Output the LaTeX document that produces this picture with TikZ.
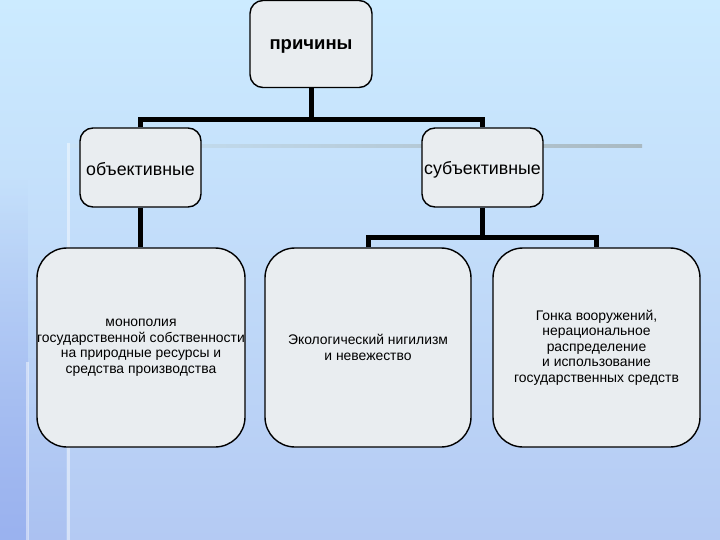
\documentclass[tikz,border=0pt]{standalone}
\usepackage{fontspec}
\setmainfont{Liberation Sans}
\usetikzlibrary{fadings}
\definecolor{bgtop}{HTML}{CCEBFF}
\definecolor{bgmid}{HTML}{C1DBF9}
\definecolor{bgbot}{HTML}{B4CAF3}
\definecolor{boxfill}{HTML}{E9EDF0}
\definecolor{strip}{HTML}{9AB2EF}
\definecolor{greyline}{HTML}{A9B9C1}
\definecolor{fadeline}{HTML}{C8E3F8}
\tikzset{
  smallbox/.style={draw=black, line width=1.4pt, fill=boxfill, rounded corners=13pt, inner sep=0pt},
  bigbox/.style={draw=black, line width=1.4pt, fill=boxfill, rounded corners=30pt, inner sep=0pt},
  conn/.style={draw=black, line width=5pt, line join=miter},
  toptxt/.style={font=\fontsize{18.5}{22}\selectfont\bfseries, inner sep=0pt},
  midtxt/.style={font=\fontsize{17.8}{21}\selectfont, inner sep=0pt},
  lowtxt/.style={font=\fontsize{13.9}{15.5}\selectfont, align=center, inner sep=0pt},
}
\begin{document}
\begin{tikzpicture}[x=1pt, y=-1pt]
\useasboundingbox (0,0) rectangle (720,540);
% background
\shade[top color=bgtop, bottom color=bgbot, middle color=bgmid] (0,0) rectangle (720,540);
\fill[strip, path fading=north] (0,180) rectangle (28,540);
\fill[strip, opacity=0.35, path fading=north] (28,300) rectangle (66,540);
% decorative lines
\shade[left color=fadeline, right color=greyline] (68,144.5) rectangle (642,147.5);
\fill[white, opacity=0.45] (66.5,143) rectangle (70,540);
\fill[white, opacity=0.45] (25.5,362) rectangle (29,540);
% boxes
\node[smallbox, minimum width=122pt, minimum height=87pt] (top) at (311,44) {};
\node[toptxt] (toplbl) at ([yshift=-2pt]top.center) {причины};
\node[smallbox, minimum width=121pt, minimum height=79pt] (obj) at (140.5,167.5) {};
\node[midtxt] (objlbl) at ([yshift=-2pt]obj.center) {объективные};
\node[smallbox, minimum width=121pt, minimum height=79pt] (sub) at (482.5,167.5) {};
\node[midtxt] (sublbl) at ([yshift=-2pt]sub.center) {субъективные};
\node[bigbox, minimum width=208pt, minimum height=199pt] (b1) at (141,347.5) {};
\node[lowtxt] (b1lbl) at (b1.center) {монополия\\государственной собственности\\на природные ресурсы и\\средства производства};
\node[bigbox, minimum width=206pt, minimum height=199pt] (b2) at (368,347.5) {};
\node[lowtxt] (b2lbl) at (b2.center) {Экологический нигилизм\\и невежество};
\node[bigbox, minimum width=207pt, minimum height=199pt] (b3) at (596.5,347.5) {};
\node[lowtxt] (b3lbl) at (b3.center) {Гонка вооружений,\\нерациональное\\распределение\\и использование\\государственных средств};
% connectors
\coordinate (j1) at (311,119.5);
\coordinate (j2) at (482.5,237.5);
\draw[conn] (top.south) -- (j1);
\draw[conn] (obj.north) |- (j1) -| (sub.north);
\draw[conn] (obj.south) -- (obj.south |- b1.north);
\draw[conn] (sub.south) -- (j2);
\draw[conn] (b2.north) |- (j2) -| (b3.north);
\end{tikzpicture}
\end{document}
